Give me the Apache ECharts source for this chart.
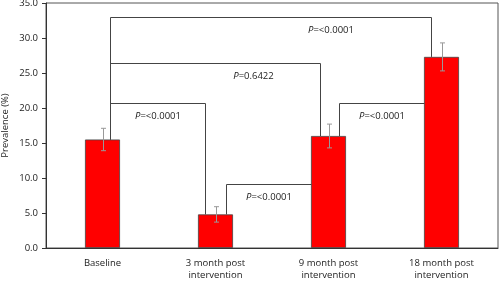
<!DOCTYPE html>
<html>
<head>
<meta charset="utf-8">
<script src="https://cdn.jsdelivr.net/npm/echarts@6/dist/echarts.min.js"></script>
<style>
  html, body { margin: 0; padding: 0; background: #fff; }
  #chart { width: 500px; height: 282px; }
</style>
</head>
<body>
<div id="chart"></div>
<script>
const categories = ['Baseline', '3 month post\nintervention', '9 month post\nintervention', '18 month post\nintervention'];
const prevalence = [15.5, 4.8, 16.0, 27.3];
const errorHalf = [1.6, 1.1, 1.7, 2.0];
const yTicks = [0, 5, 10, 15, 20, 25, 30, 35];

// comparison brackets
const bracketFrom = [0, 0, 0, 1, 2];
const bracketTo = [3, 2, 1, 2, 3];
const bracketLevel = [33.0, 26.5, 20.7, 9.1, 20.7];
const bracketP = ['<0.0001', '0.6422', '<0.0001', '<0.0001', '<0.0001'];

// drawing tweaks (pixels)
const bracketOffsets = [[7.7, -10.4], [7.7, -9], [7.7, -10.7], [10.7, -17.5], [10, -17.5]];
const bracketDropEnd = [true, true, true, false, false];
const labelShift = [60, 38, 0, 0, 0];

const font = "'Open Sans', sans-serif";
const chart = echarts.init(document.getElementById('chart'));

const option = {
  animation: false,
  textStyle: { fontFamily: font },
  grid: {
    left: 46, right: 2, top: 3, bottom: 34,
    outerBoundsMode: 'none', containLabel: false,
    show: true, borderColor: '#555', borderWidth: 1
  },
  xAxis: {
    type: 'category',
    data: categories,
    axisLine: { lineStyle: { color: '#333' } },
    axisTick: { lineStyle: { color: '#333' }, length: 4 },
    axisLabel: { color: '#222', fontSize: 9.5, lineHeight: 12, margin: 9, fontFamily: font }
  },
  yAxis: {
    type: 'value',
    min: yTicks[0],
    max: yTicks[yTicks.length - 1],
    interval: 5,
    name: 'Prevalence (%)',
    nameLocation: 'middle',
    nameGap: 36,
    nameMoveOverlap: false,
    nameTextStyle: { color: '#222', fontSize: 9.5, fontFamily: font },
    axisLine: { show: true, lineStyle: { color: '#333' } },
    axisTick: { show: true, lineStyle: { color: '#333' }, length: 4 },
    splitLine: { show: false },
    axisLabel: { color: '#222', fontSize: 9.5, margin: 8, fontFamily: font, formatter: v => v.toFixed(1) }
  },
  series: [
    {
      type: 'bar',
      data: prevalence,
      barWidth: 35,
      itemStyle: { color: '#ff0000', borderColor: '#444', borderWidth: 0.8 },
      z: 2
    },
    {
      type: 'custom',
      data: prevalence.map((v, i) => [i, v - errorHalf[i], v + errorHalf[i]]),
      z: 3,
      renderItem: (params, api) => {
        const lo = api.coord([api.value(0), api.value(1)]);
        const hi = api.coord([api.value(0), api.value(2)]);
        const x = Math.round(lo[0]) + 0.5;
        const st = { stroke: '#999', lineWidth: 1 };
        return {
          type: 'group',
          children: [
            { type: 'line', shape: { x1: x, y1: lo[1], x2: x, y2: hi[1] }, style: st },
            { type: 'line', shape: { x1: x - 2.5, y1: hi[1], x2: x + 2.5, y2: hi[1] }, style: st },
            { type: 'line', shape: { x1: x - 2.5, y1: lo[1], x2: x + 2.5, y2: lo[1] }, style: st }
          ]
        };
      }
    },
    {
      type: 'custom',
      data: bracketFrom.map((f, i) => [f, bracketTo[i], bracketLevel[i], i]),
      z: 4,
      renderItem: (params, api) => {
        const i = api.value(3);
        const a = api.value(0), b = api.value(1), lvl = api.value(2);
        const pa = api.coord([a, prevalence[a]]);
        const pb = api.coord([b, prevalence[b]]);
        const yl = Math.round(api.coord([a, lvl])[1]) + 0.5;
        const x1 = Math.round(pa[0] + bracketOffsets[i][0]) + 0.5;
        const x2 = Math.round(pb[0] + bracketOffsets[i][1]) + 0.5;
        const pts = [[x1, pa[1]], [x1, yl], [x2, yl]];
        if (bracketDropEnd[i]) pts.push([x2, pb[1]]);
        return {
          type: 'group',
          children: [
            { type: 'polyline', shape: { points: pts }, style: { stroke: '#444', lineWidth: 1, fill: null } },
            {
              type: 'text',
              style: {
                text: '{i|P}=' + bracketP[i],
                x: (x1 + x2) / 2 + labelShift[i],
                y: yl + 12.5,
                align: 'center',
                verticalAlign: 'middle',
                fill: '#222',
                font: '9.5px ' + font,
                rich: { i: { fontStyle: 'italic', fontSize: 9.5, fontFamily: font, fill: '#222' } }
              }
            }
          ]
        };
      }
    }
  ]
};

chart.setOption(option);
</script>
</body>
</html>
